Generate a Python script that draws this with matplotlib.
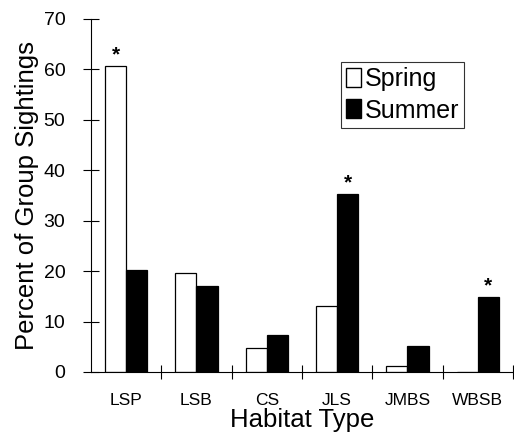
import numpy as np
import matplotlib
matplotlib.use("Agg")
import matplotlib.pyplot as plt
from matplotlib.patches import Patch

plt.rcParams['font.family'] = ['Liberation Sans', 'DejaVu Sans']

habitats = ["LSP", "LSB", "CS", "JLS", "JMBS", "WBSB"]
spring = [60.6, 19.6, 4.8, 13.0, 1.2, 0.0]
summer = [20.3, 17.1, 7.4, 35.2, 5.2, 14.8]
# stars mark significant differences: (category index, season)
significant = [(0, "spring"), (3, "summer"), (5, "summer")]

fig = plt.figure(figsize=(5.14, 4.41), dpi=100)
ax = fig.add_axes([0.177, 0.1565, 0.821, 0.8005])

x = np.arange(len(habitats))
w = 0.3
ax.bar(x - w / 2, spring, width=w, color="white", edgecolor="black", linewidth=0.9)
ax.bar(x + w / 2, summer, width=w, color="black", edgecolor="black", linewidth=0.9)

for i, season in significant:
    if season == "spring":
        xs, top = x[i] - w / 2, spring[i]
    else:
        xs, top = x[i] + w / 2, summer[i]
    ax.text(xs, top + 0.4, "*", ha="center", va="bottom", fontsize=15, fontweight="bold")

ax.set_xlim(-0.5, len(habitats) - 0.5)
ax.set_ylim(0, 70)
ax.set_yticks(np.arange(0, 71, 10))
ax.tick_params(axis="y", direction="inout", length=11, width=0.8, labelsize=14, pad=13)

ax.set_xticks(x)
ax.set_xticklabels(habitats, fontsize=12.5)
ax.tick_params(axis="x", length=0, pad=15)
ax.set_xticks(np.arange(0.5, len(habitats), 1.0), minor=True)
ax.tick_params(axis="x", which="minor", direction="inout", length=10, width=0.8)

for s in ["top", "right"]:
    ax.spines[s].set_visible(False)
ax.spines["left"].set_linewidth(0.8)
ax.spines["bottom"].set_linewidth(0.8)

ax.set_ylabel("Percent of Group Sightings", fontsize=18.5, labelpad=3)
ax.set_xlabel("Habitat Type", fontsize=18.5, labelpad=0)

handles = [Patch(facecolor="white", edgecolor="black", label="Spring"),
           Patch(facecolor="black", edgecolor="black", label="Summer")]
leg = ax.legend(handles=handles, loc="upper left", bbox_to_anchor=(0.592, 0.878),
                fontsize=18, frameon=True, fancybox=False, edgecolor="black",
                handlelength=0.6, handleheight=0.8, handletextpad=0.15,
                borderpad=0.2, labelspacing=0.3, borderaxespad=0)
leg.get_frame().set_linewidth(0.8)

fig.savefig("out.png", dpi=100)
